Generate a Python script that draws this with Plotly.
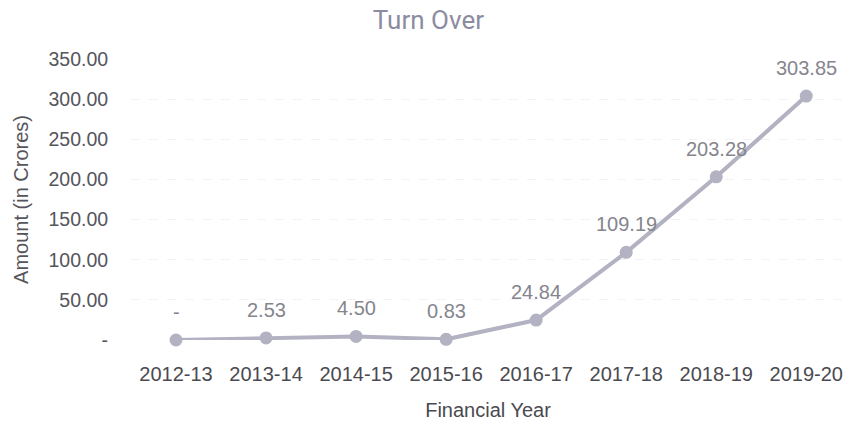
import plotly.graph_objects as go

years = ["2012-13", "2013-14", "2014-15", "2015-16", "2016-17", "2017-18", "2018-19", "2019-20"]
turnover = [0, 2.53, 4.50, 0.83, 24.84, 109.19, 203.28, 303.85]
labels = ["-", "2.53", "4.50", "0.83", "24.84", "109.19", "203.28", "303.85"]
ytick_vals = [0, 50, 100, 150, 200, 250, 300, 350]
ytick_text = ["-", "50.00", "100.00", "150.00", "200.00", "250.00", "300.00", "350.00"]

line_color = "#b2b2c2"
font_family = "Liberation Sans, Arial, sans-serif"

fig = go.Figure()
fig.add_trace(go.Scatter(
    x=list(range(len(years))), y=turnover, mode="lines+markers",
    line=dict(color=line_color, width=4),
    marker=dict(color=line_color, size=13),
    cliponaxis=False, hoverinfo="skip",
))

for i, (v, t) in enumerate(zip(turnover, labels)):
    fig.add_annotation(x=i, y=v, text=t, showarrow=False, yshift=28,
                       font=dict(size=20, color="#85858d", family=font_family))

fig.update_layout(
    width=845, height=426,
    margin=dict(l=131, r=0, t=59, b=86),
    paper_bgcolor="white", plot_bgcolor="white",
    showlegend=False,
    title=dict(text="Turn Over", x=0.507, xanchor="center", y=0.953, yanchor="middle",
               font=dict(size=26, color="#8c8ca0", family="Roboto, Liberation Sans, sans-serif")),
    font=dict(family=font_family, color="#55555c", size=19),
)
fig.update_xaxes(
    range=[-0.5, 7.43], tickmode="array", tickvals=list(range(len(years))), ticktext=years,
    showgrid=False, zeroline=False, showline=False,
    ticks="outside", ticklen=16, tickcolor="rgba(0,0,0,0)",
    tickfont=dict(size=20, color="#4a4a50"),
    title=dict(text="Financial Year", font=dict(size=20, color="#4a4a50"), standoff=18),
)
fig.update_yaxes(
    range=[0, 350], tickmode="array", tickvals=ytick_vals, ticktext=ytick_text,
    showgrid=True, gridcolor="#f2f2f4", gridwidth=1, griddash="dash",
    zeroline=False, showline=False,
    ticks="outside", ticklen=18, tickcolor="rgba(0,0,0,0)",
    tickfont=dict(size=19.5, color="#55555c"),
    title=dict(text="Amount (in Crores)", font=dict(size=20, color="#55555c"), standoff=14),
)

fig.write_html("out.html")
